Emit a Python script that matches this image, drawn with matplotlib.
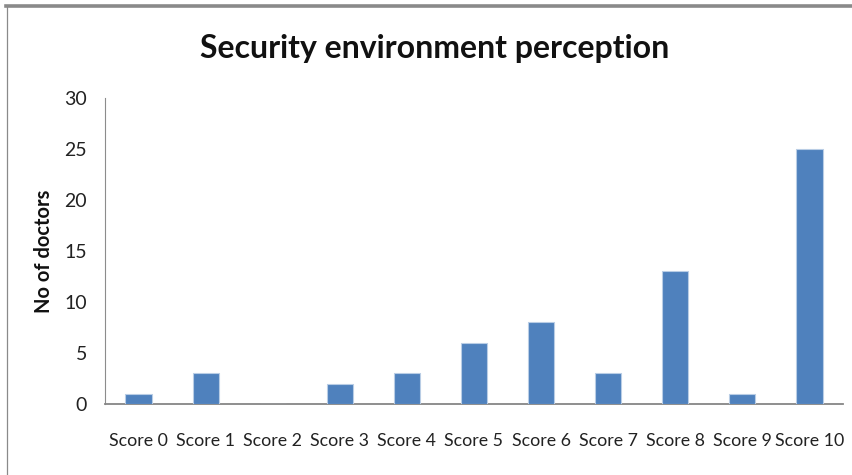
import matplotlib
matplotlib.use('Agg')
import matplotlib.pyplot as plt
from matplotlib import font_manager
from matplotlib.lines import Line2D

categories = ['Score 0', 'Score 1', 'Score 2', 'Score 3', 'Score 4', 'Score 5',
              'Score 6', 'Score 7', 'Score 8', 'Score 9', 'Score 10']
doctors = [1, 3, 0, 2, 3, 6, 8, 3, 13, 1, 25]
yticks = [0, 5, 10, 15, 20, 25, 30]

names = {f.name for f in font_manager.fontManager.ttflist}
fam = [n for n in ['Liberation Sans Narrow', 'Lato', 'DejaVu Sans'] if n in names]

W, H = 853, 475
fig = plt.figure(figsize=(W / 100, H / 100), dpi=100)
ax = fig.add_axes([105 / W, 1 - 404 / H, (843 - 105) / W, (404 - 98) / H])

x = range(len(categories))
ax.bar(x, doctors, width=0.39, color='#4f81bd', edgecolor='#b9cde5', linewidth=0.8, zorder=3)

ax.set_xlim(-0.5, len(categories) - 0.5)
ax.set_ylim(0, 30)
ax.set_yticks(yticks)
ax.set_xticks(list(x))
ax.set_xticklabels(categories, family=fam, fontsize=12.8, color='#222222')
ax.set_yticklabels([str(t) for t in yticks], family=fam, fontsize=14, color='#222222')
ax.tick_params(axis='x', length=0, pad=21)
ax.tick_params(axis='y', length=0, pad=13)
for s in ['top', 'right']:
    ax.spines[s].set_visible(False)
ax.spines['left'].set_color('#8c8c8c')
ax.spines['left'].set_linewidth(0.8)
ax.spines['bottom'].set_color('#868686')
ax.spines['bottom'].set_linewidth(1.3)

fig.text(435 / W, 1 - 58 / H, 'Security environment perception', ha='center', va='baseline',
         family=fam, fontsize=23, fontweight='bold', color='#111111')
fig.text(44 / W, 1 - 251 / H, 'No of doctors', rotation=90, ha='center', va='center',
         family=fam, fontsize=14.5, fontweight='bold', color='#111111')

# page frame above and left of the chart
fig.add_artist(Line2D([6.5 / W, 1], [1 - 5.5 / H, 1 - 5.5 / H], color='#8a8a8a', linewidth=2.6))
fig.add_artist(Line2D([7 / W, 7 / W], [0, 1 - 5.5 / H], color='#8a8a8a', linewidth=0.9))

fig.savefig('out.png', dpi=100)
